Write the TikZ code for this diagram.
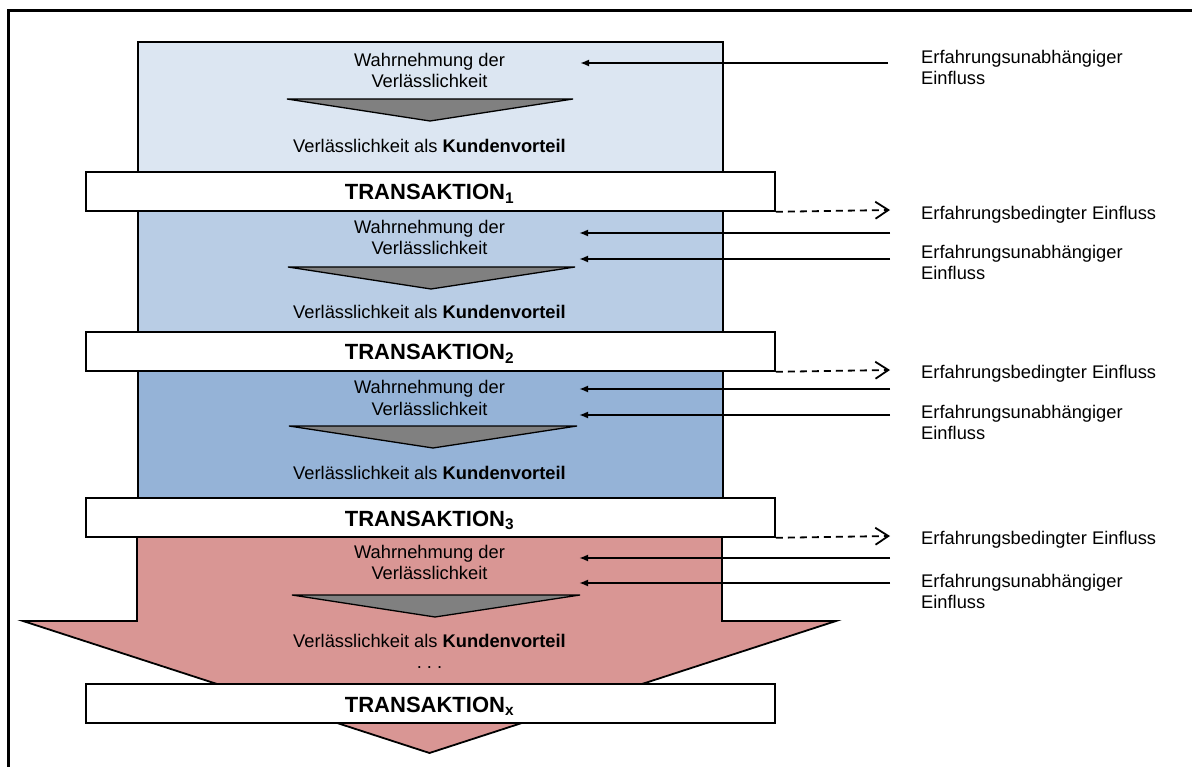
\documentclass[tikz,border=0pt]{standalone}
\usepackage{fontspec}
\setmainfont{Liberation Sans}
\usetikzlibrary{arrows.meta}
\definecolor{tierA}{HTML}{DCE6F2}
\definecolor{tierB}{HTML}{B9CDE5}
\definecolor{tierC}{HTML}{95B3D7}
\definecolor{tierD}{HTML}{D99694}
\definecolor{wedgegray}{HTML}{808080}

\begin{document}
\begin{tikzpicture}[x=1pt,y=-1pt,
  panel/.style={draw, line width=1.8pt, inner sep=0pt, anchor=north west, minimum width=585pt},
  bar/.style={draw, fill=white, line width=1.8pt, inner sep=0pt, anchor=north west,
              minimum width=689pt, minimum height=39pt},
  bartext/.style={font=\fontsize{22}{26}\selectfont\bfseries, anchor=base, inner sep=0pt},
  txt/.style={font=\fontsize{18.3}{21}\selectfont, anchor=base, inner sep=0pt},
  side/.style={font=\fontsize{18.3}{21}\selectfont, anchor=base west, inner sep=0pt},
  wedge/.style={draw, fill=wedgegray, line width=1.3pt},
  inflow/.style={-{Latex[length=9pt,width=7pt]}, line width=1.8pt},
  outflow/.style={-{Straight Barb[length=13pt,width=17pt]}, line width=1.8pt, dash pattern=on 7pt off 5pt},
]
\useasboundingbox (0,0) rectangle (1192,767);

% outer frame (open to the right and bottom)
\draw[line width=2.6pt] (8.7,767) -- (8.7,10.7) -- (1192,10.7);

% stacked stages
\node[panel, fill=tierA, minimum height=130pt] (p1) at (137,41) {};
\node[panel, fill=tierB, minimum height=121pt] (p2) at (137,210) {};
\node[panel, fill=tierC, minimum height=127pt] (p3) at (137,370) {};

% last stage as a big downward arrow
\draw[line width=1.8pt, fill=tierD] (137,536) -- (137,621) -- (23,621) -- (429.5,753)
  -- (836,621) -- (722,621) -- (722,536) -- cycle;

% transaction bars
\node[bar] (b1) at (85,171) {};
\node[bar] (b2) at (85,331) {};
\node[bar] (b3) at (85,497) {};
\node[bar] (bx) at (85,683) {};
\node[bartext] (t1) at (429.5,200) {TRANSAKTION\textsubscript{1}};
\node[bartext] (t2) at (429.5,360) {TRANSAKTION\textsubscript{2}};
\node[bartext] (t3) at (429.5,526) {TRANSAKTION\textsubscript{3}};
\node[bartext] (tx) at (429.5,712) {TRANSAKTION\textsubscript{x}};

% stage contents
\node[txt] (w1a) at (429.5,66.5) {Wahrnehmung der};
\node[txt] (w1b) at (429.5,87.5) {Verlässlichkeit};
\draw[wedge] (287,99) -- (573,99) -- (430,121) -- cycle;
\node[txt] (k1) at (429.5,153) {Verlässlichkeit als \textbf{Kundenvorteil}};

\node[txt] (w2a) at (429.5,234) {Wahrnehmung der};
\node[txt] (w2b) at (429.5,255) {Verlässlichkeit};
\draw[wedge] (288,267) -- (575,267) -- (431,289) -- cycle;
\node[txt] (k2) at (429.5,319) {Verlässlichkeit als \textbf{Kundenvorteil}};

\node[txt] (w3a) at (429.5,394) {Wahrnehmung der};
\node[txt] (w3b) at (429.5,415) {Verlässlichkeit};
\draw[wedge] (289,426) -- (577,426) -- (433,448) -- cycle;
\node[txt] (k3) at (429.5,479) {Verlässlichkeit als \textbf{Kundenvorteil}};

\node[txt] (w4a) at (429.5,558) {Wahrnehmung der};
\node[txt] (w4b) at (429.5,579) {Verlässlichkeit};
\draw[wedge] (292,595) -- (580,595) -- (435,617) -- cycle;
\node[txt] (k4) at (429.5,647) {Verlässlichkeit als \textbf{Kundenvorteil}};
\node[txt] (dots) at (429.5,668) {.\ .\ .};

% influence labels
\node[side] (u1a) at (921,63.5) {Erfahrungsunabhängiger};
\node[side] (u1b) at (921,85) {Einfluss};
\node[side] (e2) at (921,220) {Erfahrungsbedingter Einfluss};
\node[side] (u2a) at (921,258.5) {Erfahrungsunabhängiger};
\node[side] (u2b) at (921,280) {Einfluss};
\node[side] (e3) at (921,378) {Erfahrungsbedingter Einfluss};
\node[side] (u3a) at (921,418) {Erfahrungsunabhängiger};
\node[side] (u3b) at (921,439.5) {Einfluss};
\node[side] (e4) at (921,544) {Erfahrungsbedingter Einfluss};
\node[side] (u4a) at (921,587) {Erfahrungsunabhängiger};
\node[side] (u4b) at (921,608.5) {Einfluss};

% influence arrows
\coordinate (i1s) at (888,63);   \coordinate (i1e) at (580,63);
\coordinate (i2s) at (890,233);  \coordinate (i2e) at (579,233);
\coordinate (i3s) at (890,259);  \coordinate (i3e) at (579,259);
\coordinate (i4s) at (890,389);  \coordinate (i4e) at (579,389);
\coordinate (i5s) at (890,415);  \coordinate (i5e) at (579,415);
\coordinate (i6s) at (890,558);  \coordinate (i6e) at (579,558);
\coordinate (i7s) at (890,583);  \coordinate (i7e) at (579,583);
\coordinate (o1) at (890,210);
\coordinate (o2) at (890,370);
\coordinate (o3) at (890,536);

\draw[inflow] (i1s) -- (i1e);
\draw[inflow] (i2s) -- (i2e);
\draw[inflow] (i3s) -- (i3e);
\draw[inflow] (i4s) -- (i4e);
\draw[inflow] (i5s) -- (i5e);
\draw[inflow] (i6s) -- (i6e);
\draw[inflow] (i7s) -- (i7e);
\draw[outflow] (b1.south east) -- (o1);
\draw[outflow] (b2.south east) -- (o2);
\draw[outflow] (b3.south east) -- (o3);
\end{tikzpicture}
\end{document}
